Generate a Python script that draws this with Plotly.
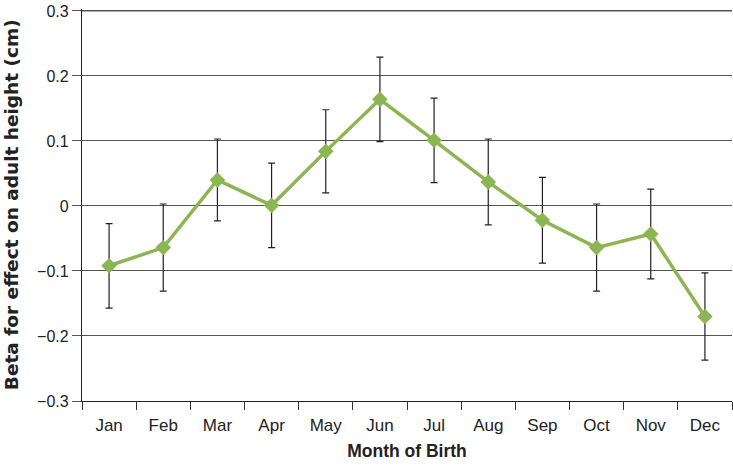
import plotly.graph_objects as go

months = ["Jan", "Feb", "Mar", "Apr", "May", "Jun", "Jul", "Aug", "Sep", "Oct", "Nov", "Dec"]
beta = [-0.092, -0.064, 0.040, 0.001, 0.084, 0.164, 0.101, 0.037, -0.022, -0.064, -0.043, -0.170]
err = [0.065, 0.067, 0.063, 0.065, 0.064, 0.065, 0.065, 0.066, 0.066, 0.067, 0.069, 0.067]

ytick_vals = [-0.3, -0.2, -0.1, 0, 0.1, 0.2, 0.3]
ytick_text = ["\u22120.3", "\u22120.2", "\u22120.1", "0", "0.1", "0.2", "0.3"]

green = "#8cb553"
grid = "#555555"
font_family = "Liberation Sans, Arial, sans-serif"

fig = go.Figure()
fig.add_trace(go.Scatter(
    x=months, y=beta, mode="markers",
    marker=dict(size=1, opacity=0),
    error_y=dict(type="data", array=err, visible=True, color="#222222", thickness=1.2, width=3.5),
    showlegend=False, hoverinfo="skip",
))
fig.add_trace(go.Scatter(
    x=months, y=beta, mode="lines+markers",
    line=dict(color=green, width=3.5),
    marker=dict(symbol="diamond", size=12, color=green),
    showlegend=False,
))

fig.update_layout(
    width=733, height=465,
    margin=dict(l=82, r=1, t=9, b=64),
    paper_bgcolor="white", plot_bgcolor="white",
    font=dict(family=font_family, size=16, color="#222222"),
)
fig.update_xaxes(
    type="category", range=[-0.5, 11.5], automargin=False,
    tickson="boundaries", ticks="outside", ticklen=8, tickcolor="#333333", tickwidth=1,
    ticklabelstandoff=8,
    showline=True, linecolor="#222222", linewidth=1.2,
    showgrid=False, zeroline=False,
    tickfont=dict(size=17, color="#222222"),
    title=dict(text="<b>Month of Birth</b>", font=dict(size=17.5, color="#222222"), standoff=11),
)
fig.update_yaxes(
    range=[-0.3, 0.303], tickvals=ytick_vals, ticktext=ytick_text, automargin=False,
    ticks="outside", ticklen=9, tickcolor=grid, tickwidth=1,
    showline=True, linecolor="#222222", linewidth=1.2,
    showgrid=True, gridcolor=grid, gridwidth=1.3,
    zeroline=False,
    tickfont=dict(size=16, color="#222222"),
)
# top gridline (at the highest tick value), drawn below the data
fig.add_hline(y=ytick_vals[-1], line=dict(color=grid, width=1.3), layer="below")
fig.add_annotation(
    text="<b>Beta for effect on adult height (cm)</b>",
    xref="paper", yref="paper", x=-0.109, y=0.5,
    xanchor="center", yanchor="middle", textangle=-90, showarrow=False,
    font=dict(family="DejaVu Sans, sans-serif", size=18.5, color="#222222"),
)

fig.write_html("out.html", config={"displayModeBar": False},
               post_script="document.body.style.margin='0';")
